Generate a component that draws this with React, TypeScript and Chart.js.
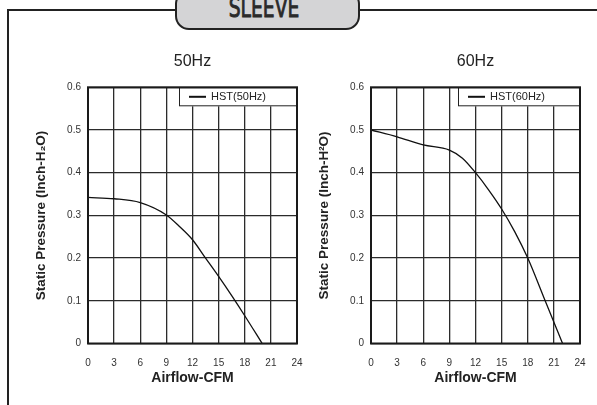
import { useEffect, useRef } from "react";
import { Chart, registerables } from "chart.js";

Chart.register(...registerables);

// ---- data ----
const bannerText = "SLEEVE";
const xAxisTitle = "Airflow-CFM";
const xMin = 0;
const xMax = 24;
const xStep = 3;
const yMin = 0;
const yMax = 0.6;
const yStep = 0.1;

const airflow50 = [0, 3, 6, 9, 10.5, 12, 13.5, 15, 16.5, 18, 20];
const pressure50 = [0.342, 0.339, 0.33, 0.301, 0.274, 0.243, 0.2, 0.157, 0.112, 0.065, 0];
const airflow60 = [0, 3, 6, 9, 10.5, 12, 13.5, 15, 16.5, 18, 20, 22];
const pressure60 = [0.5, 0.484, 0.465, 0.453, 0.434, 0.4, 0.36, 0.315, 0.262, 0.2, 0.1, 0];

const panelTitles = ["50Hz", "60Hz"];
const seriesNames = ["HST(50Hz)", "HST(60Hz)"];
const yAxisTitles = ["Static Pressure (Inch-H\u2082O)", "Static Pressure (Inch-H\u00B2O)"];

const FONT = "'Liberation Sans', Arial, Helvetica, sans-serif";

type PanelProps = {
  xs: number[];
  ys: number[];
  title: string;
  label: string;
  yTitle: string;
  legendWidth: number;
  left: number;
  width: number;
};

function Panel({ xs, ys, title, label, yTitle, legendWidth, left, width }: PanelProps) {
  const ref = useRef<HTMLCanvasElement | null>(null);

  useEffect(() => {
    if (!ref.current) return;
    const plotFrame = {
      id: "plotFrame",
      afterDatasetsDraw(chart: any) {
        const { ctx, chartArea: a } = chart;
        ctx.save();
        // legend box
        const h = 19;
        const x0 = a.right - legendWidth;
        const y0 = a.top;
        ctx.fillStyle = "#ffffff";
        ctx.fillRect(x0, y0, legendWidth, h);
        ctx.strokeStyle = "#222";
        ctx.lineWidth = 1;
        ctx.strokeRect(x0 + 0.5, y0 + 0.5, legendWidth - 1, h - 1);
        const ds = chart.data.datasets[0];
        ctx.strokeStyle = "#111";
        ctx.lineWidth = 2;
        ctx.beginPath();
        ctx.moveTo(x0 + 10, y0 + h / 2);
        ctx.lineTo(x0 + 27, y0 + h / 2);
        ctx.stroke();
        ctx.fillStyle = "#222";
        ctx.font = `11px ${FONT}`;
        ctx.textBaseline = "middle";
        ctx.textAlign = "left";
        ctx.fillText(ds.label, x0 + 32, y0 + h / 2 + 0.5);
        // plot frame
        ctx.strokeStyle = "#1a1a1a";
        ctx.lineWidth = 2;
        ctx.strokeRect(a.left, a.top, a.right - a.left, a.bottom - a.top);
        ctx.restore();
      },
    };

    const chart = new Chart(ref.current, {
      type: "line",
      data: {
        datasets: [
          {
            label,
            data: xs.map((x, i) => ({ x, y: ys[i] })),
            borderColor: "#111",
            borderWidth: 1.3,
            pointRadius: 0,
            fill: false,
            cubicInterpolationMode: "monotone",
          },
        ],
      },
      options: {
        animation: false,
        responsive: true,
        maintainAspectRatio: false,
        layout: { padding: { left: 0, top: 0, bottom: 0, right: width - 80 - 209 } },
        plugins: {
          legend: { display: false },
          tooltip: { enabled: false },
          title: {
            display: true,
            fullSize: false,
            text: title,
            color: "#222",
            font: { family: FONT, size: 16, weight: "normal", lineHeight: 1.2 },
            padding: { top: 12.4, bottom: 15.7 },
          },
        },
        scales: {
          x: {
            type: "linear",
            min: xMin,
            max: xMax,
            ticks: {
              stepSize: xStep,
              padding: 0,
              color: "#333",
              maxRotation: 0,
              autoSkip: false,
              font: { family: FONT, size: 10 },
            },
            grid: {
              color: "#2b2b2b",
              lineWidth: 1.3,
              drawTicks: true,
              tickLength: 13.5,
              tickColor: "rgba(0,0,0,0)",
            },
            border: { display: false },
            title: {
              display: true,
              text: xAxisTitle,
              color: "#222",
              font: { family: FONT, size: 14, weight: "bold", lineHeight: 1.2 },
              padding: { top: 0, bottom: 18.6 },
            },
            afterFit: (s: any) => {
              s.height = 61.5;
            },
          },
          y: {
            type: "linear",
            min: yMin,
            max: yMax,
            ticks: {
              stepSize: yStep,
              padding: 7,
              color: "#333",
              font: { family: FONT, size: 10 },
              callback: (v: any) => (Number(v) === 0 ? "0" : Number(v).toFixed(1)),
            },
            grid: { color: "#2b2b2b", lineWidth: 1.3, drawTicks: false },
            border: { display: false },
            title: {
              display: true,
              text: yTitle,
              color: "#222",
              font: { family: FONT, size: 13.5, weight: "bold", lineHeight: 1.2 },
              padding: { top: 25, bottom: 0 },
            },
            afterFit: (s: any) => {
              s.width = 80;
            },
          },
        },
      } as any,
      plugins: [plotFrame],
    });
    return () => chart.destroy();
  }, [xs, ys, title, label, yTitle, legendWidth, width]);

  return (
    <div style={{ position: "absolute", left, top: 40, width, height: 365 }}>
      <canvas ref={ref} />
    </div>
  );
}

export default function App() {
  return (
    <div
      style={{
        position: "absolute",
        left: 0,
        top: 0,
        width: 597,
        height: 405,
        background: "#fff",
        overflow: "hidden",
      }}
    >
      {/* outer frame */}
      <div
        style={{
          position: "absolute",
          left: 7,
          top: 9,
          width: 640,
          height: 440,
          borderTop: "2px solid #222",
          borderLeft: "2px solid #222",
        }}
      />
      {/* banner pill */}
      <div
        style={{
          position: "absolute",
          left: 175,
          top: -10,
          width: 185,
          height: 40,
          boxSizing: "border-box",
          border: "2px solid #222",
          borderRadius: 14,
          background: "#d4d4d6",
          zIndex: 2,
        }}
      />
      <div
        style={{
          position: "absolute",
          left: 164,
          width: 200,
          top: -5,
          height: 26,
          lineHeight: "26px",
          textAlign: "center",
          zIndex: 3,
          whiteSpace: "nowrap",
        }}
      >
        <span
          style={{
            display: "inline-block",
            fontFamily: "'DejaVu Sans', sans-serif",
            fontSize: 26,
            color: "#2a2a2a",
            WebkitTextStroke: "0.9px #2a2a2a",
            transform: "scaleX(0.72)",
            transformOrigin: "center",
          }}
        >
          {bannerText}
        </span>
      </div>
      <Panel
        xs={airflow50}
        ys={pressure50}
        title={panelTitles[0]}
        label={seriesNames[0]}
        yTitle={yAxisTitles[0]}
        legendWidth={118}
        left={8}
        width={300}
      />
      <Panel
        xs={airflow60}
        ys={pressure60}
        title={panelTitles[1]}
        label={seriesNames[1]}
        yTitle={yAxisTitles[1]}
        legendWidth={122}
        left={291}
        width={306}
      />
    </div>
  );
}
